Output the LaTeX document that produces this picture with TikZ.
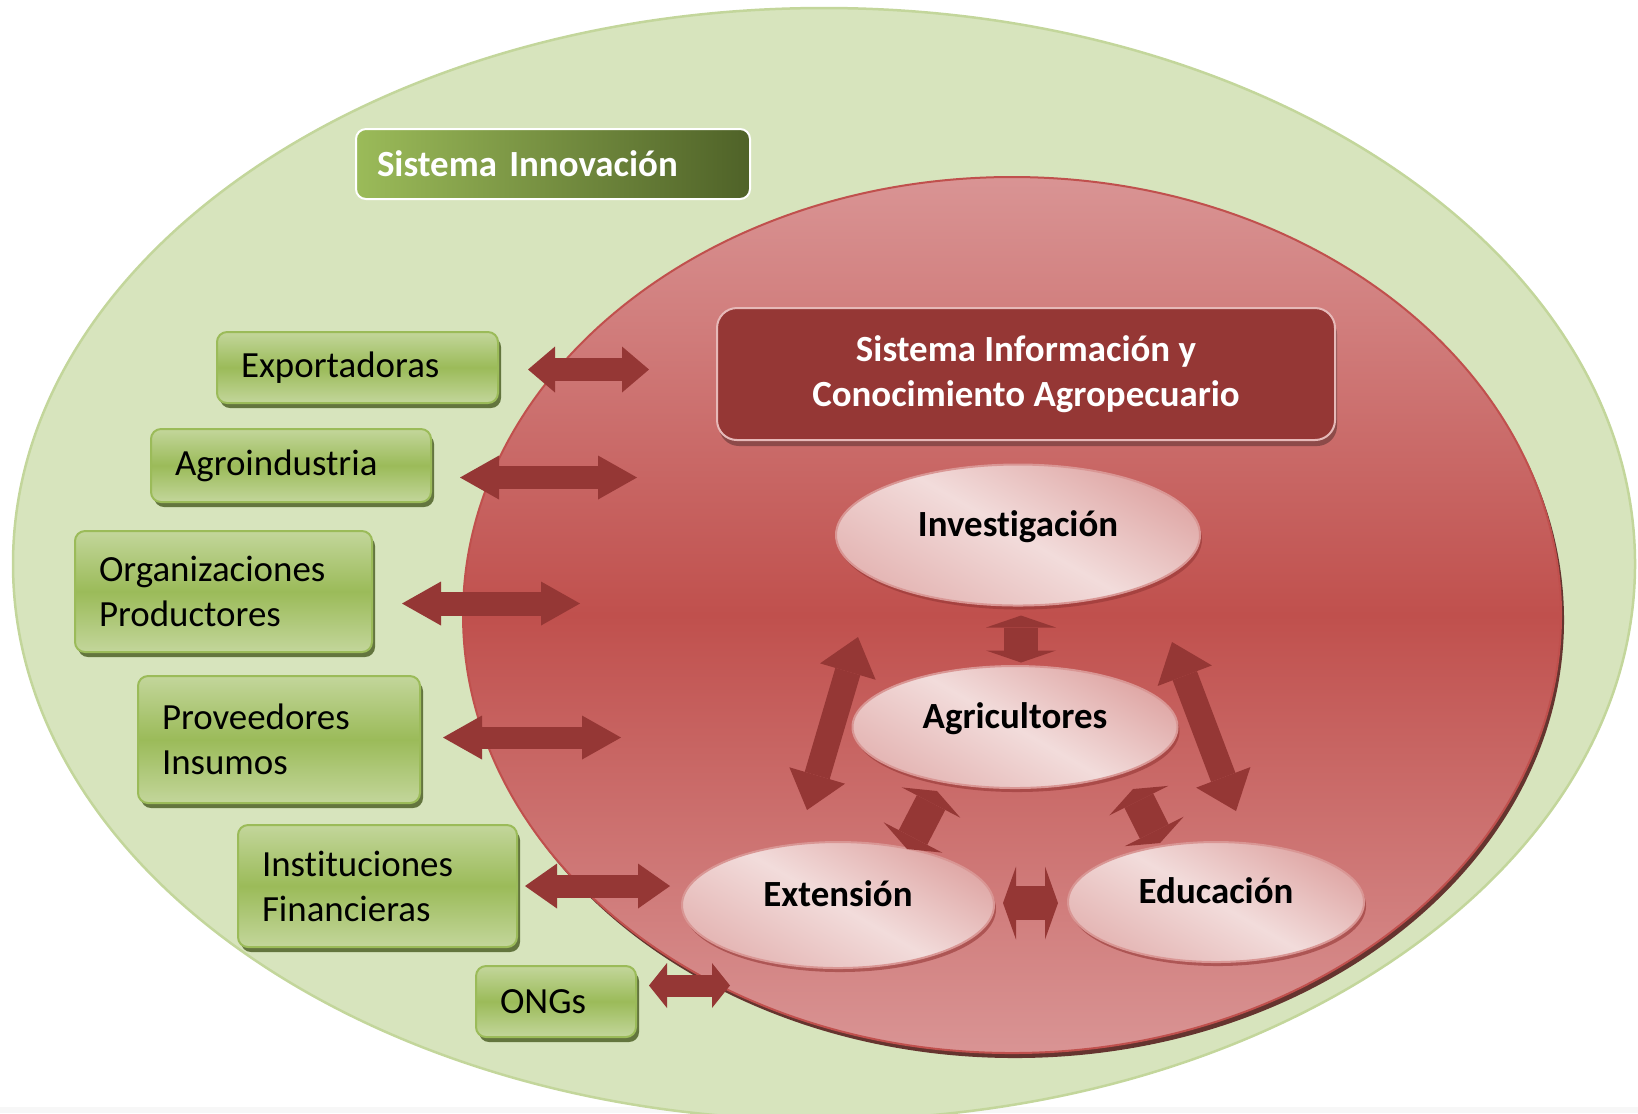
\documentclass[tikz,border=0pt]{standalone}
\usepackage{fontspec}
\setmainfont{Carlito}[Ligatures=NoCommon]
\usepackage{tikz}
\usetikzlibrary{arrows.meta, positioning, shapes, shadows, calc}

\definecolor{leafpale}{HTML}{D7E4BD}
\definecolor{leafline}{HTML}{C3D69B}
\definecolor{leaflight}{HTML}{C3D69B}
\definecolor{leaf}{HTML}{9BBB59}
\definecolor{leafdark}{HTML}{4F6228}
\definecolor{wine}{HTML}{953735}
\definecolor{rosemid}{HTML}{C0504D}
\definecolor{roselight}{HTML}{D99494}
\definecolor{blush}{HTML}{F2DCDB}
\definecolor{blushdark}{HTML}{D99694}
\definecolor{blushline}{HTML}{E6B9B8}

\begin{document}
\begin{tikzpicture}[
    actor/.style={rectangle, draw=leaf, line width=0.02cm, rounded corners=0.1cm,
        top color=leaflight, bottom color=leaflight, middle color=leaf,
        anchor=north west, inner xsep=0.24cm, align=left,
        font=\fontsize{10.5}{12.8}\selectfont,
        drop shadow={shadow xshift=0.03cm, shadow yshift=-0.05cm, fill=leafdark, opacity=0.85}},
    title/.style={rectangle, draw=white, line width=0.02cm, rounded corners=0.1cm,
        left color=leaf, right color=leafdark, text=white, anchor=north west, align=left,
        inner xsep=0.21cm, font=\fontsize{10.5}{12.8}\selectfont\bfseries},
    panel/.style={rectangle, fill=wine, draw=blushline, line width=0.02cm, rounded corners=0.2cm,
        text=white, align=center, font=\fontsize{10.5}{12.8}\selectfont\bfseries,
        drop shadow={shadow xshift=0.02cm, shadow yshift=-0.06cm, fill=black, opacity=0.3}},
    role/.style={ellipse, draw=blushdark, line width=0.02cm, inner sep=0pt,
        top color=blushdark!75!blush, bottom color=blushdark!55!blush, middle color=blush,
        shading angle=-30, text height=0.26cm, text depth=0.24cm,
        font=\fontsize{10.5}{12.8}\selectfont\bfseries,
        drop shadow={shadow xshift=0.02cm, shadow yshift=-0.04cm, fill=wine, opacity=0.6}},
    twoway/.style n args={3}{draw=wine, line width=#1,
        {Triangle[length=#2, width=#3, line width=0pt]}-{Triangle[length=#2, width=#3, line width=0pt]}}
    ]

    \clip (0,0) rectangle (16.38,-11.13);
    \fill[black!3] (0,-11.07) rectangle (16.38,-11.13);

    % Innovation system
    \draw[fill=leafpale, draw=leafline, line width=0.025cm] (8.24,-5.64) ellipse [x radius=8.11, y radius=5.56];
    \node[title, minimum width=3.94cm, minimum height=0.70cm, text width=3.52cm] (innov) at (3.55,-1.28) {Sistema Innovación};

    % Outer actors
    \node[actor, text width=2.33cm, minimum height=0.71cm] (exp) at (2.16,-3.31) {Exportadoras};
    \node[actor, text width=2.32cm, minimum height=0.73cm] (agro) at (1.50,-4.28) {Agroindustria};
    \node[actor, text width=2.49cm, minimum height=1.21cm] (org) at (0.74,-5.30) {Organizaciones\\Productores};
    \node[actor, text width=2.34cm, minimum height=1.27cm] (prov) at (1.37,-6.75) {Proveedores\\Insumos};
    \node[actor, text width=2.31cm, minimum height=1.22cm] (inst) at (2.37,-8.24) {Instituciones\\Financieras};
    \node[actor, text width=1.12cm, minimum height=0.71cm] (ong) at (4.75,-9.65) {ONGs};

    % Knowledge system
    \draw[draw=rosemid, line width=0.02cm, top color=roselight, bottom color=roselight, middle color=rosemid,
        drop shadow={shadow xshift=0.03cm, shadow yshift=-0.05cm, fill=wine!60!black, opacity=0.9}]
        (10.12,-6.15) ellipse [x radius=5.49, y radius=4.38];
    \node[panel, minimum width=6.18cm, minimum height=1.32cm] (sica) at (10.26,-3.74) {Sistema Información y\\Conocimiento Agropecuario};

    % Roles
    \node[role, minimum width=3.64cm, minimum height=1.41cm] (inv) at (10.18,-5.35) {Investigación};
    \node[role, minimum width=3.25cm, minimum height=1.22cm] (agr) at (10.15,-7.27) {Agricultores};
    \node[role, minimum width=3.12cm, minimum height=1.26cm] (ext) at (8.38,-9.05) {Extensión};
    \node[role, minimum width=2.96cm, minimum height=1.20cm] (edu) at (12.16,-9.02) {Educación};

    % Links to the outer actors
    \draw[twoway={0.23cm}{0.27cm}{0.46cm}] ([xshift=0.29cm,yshift=-0.02cm]exp.east) -- ++(1.21,0);
    \draw[twoway={0.23cm}{0.39cm}{0.44cm}] ([xshift=0.28cm,yshift=-0.12cm]agro.east) -- ++(1.77,0);
    \draw[twoway={0.24cm}{0.39cm}{0.44cm}] ([xshift=0.29cm,yshift=-0.12cm]org.east) -- ++(1.78,0);
    \draw[twoway={0.22cm}{0.39cm}{0.44cm}] ([xshift=0.22cm,yshift=0.02cm]prov.east) -- ++(1.78,0);
    \draw[twoway={0.23cm}{0.32cm}{0.45cm}] ([xshift=0.07cm]inst.east) -- ++(1.45,0);
    \draw[twoway={0.22cm}{0.18cm}{0.45cm}] ([xshift=0.12cm,yshift=0.16cm]ong.east) -- ++(0.81,0);

    % Links between roles
    \coordinate (ie-a) at (8.58,-6.37);
    \coordinate (ie-b) at (8.07,-8.10);
    \coordinate (iu-a) at (11.72,-6.42);
    \coordinate (iu-b) at (12.36,-8.11);
    \coordinate (ae-a) at (9.37,-7.91);
    \coordinate (ae-b) at (9.07,-8.49);
    \coordinate (au-a) at (11.33,-7.89);
    \coordinate (au-b) at (11.60,-8.43);
    \draw[twoway={0.34cm}{0.12cm}{0.70cm}] ([xshift=0.03cm,yshift=-0.09cm]inv.south) -- ++(0,-0.47);
    \draw[twoway={0.26cm}{0.36cm}{0.58cm}] (ie-a) -- (ie-b);
    \draw[twoway={0.26cm}{0.36cm}{0.58cm}] (iu-a) -- (iu-b);
    \draw[twoway={0.32cm}{0.13cm}{0.66cm}] (ae-a) -- (ae-b);
    \draw[twoway={0.32cm}{0.13cm}{0.66cm}] (au-a) -- (au-b);
    \draw[twoway={0.34cm}{0.13cm}{0.73cm}] ([xshift=0.08cm,yshift=0.02cm]ext.east) -- ++(0.55,0);

\end{tikzpicture}
\end{document}
